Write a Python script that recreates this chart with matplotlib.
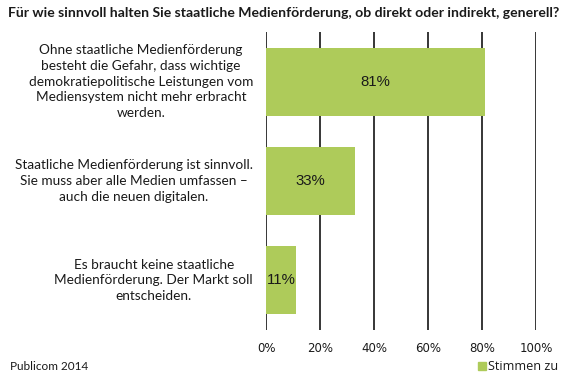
import matplotlib
matplotlib.use("Agg")
import matplotlib.pyplot as plt
from matplotlib.patches import Rectangle
from matplotlib.transforms import blended_transform_factory

title = "Für wie sinnvoll halten Sie staatliche Medienförderung, ob direkt oder indirekt, generell?"
categories = [
    "Ohne staatliche Medienförderung\nbesteht die Gefahr, dass wichtige\ndemokratiepolitische Leistungen vom\nMediensystem nicht mehr erbracht\nwerden.",
    "Staatliche Medienförderung ist sinnvoll.\nSie muss aber alle Medien umfassen –\nauch die neuen digitalen.",
    "Es braucht keine staatliche\nMedienförderung. Der Markt soll\nentscheiden.",
]
values = [81, 33, 11]
xticks = [0, 20, 40, 60, 80, 100]
xticklabels = ["0%", "20%", "40%", "60%", "80%", "100%"]
series_name = "Stimmen zu"
source = "Publicom 2014"

bar_color = "#AECB5A"
text_color = "#1a1a1a"

fig = plt.figure(figsize=(5.67, 3.8), dpi=100)
ax = fig.add_axes([266/567, 1-330/380, 270/567, 298/380])

y = list(range(len(categories)))
ax.barh(y, values, height=0.685, color=bar_color, zorder=3)
for yi, v in zip(y, values):
    ax.text(v/2, yi, f"{v}%", ha="center", va="center", fontsize=10.8,
            family="Liberation Sans", color=text_color, zorder=4)

ax.set_xlim(0, 100)
ax.set_ylim(2.5, -0.5)
for xt in xticks:
    ax.axvline(xt, color="black", lw=1.1, zorder=2)
for s in ax.spines.values():
    s.set_visible(False)
ax.set_xticks(xticks)
ax.set_xticklabels(xticklabels, family="DejaVu Sans", fontsize=8.5, color=text_color)
ax.tick_params(axis="x", length=0, pad=9)
ax.set_yticks([])

trans = blended_transform_factory(fig.transFigure, ax.transData)
for yi, lbl in zip(y, categories):
    ax.text(253/567, yi, lbl, transform=trans, ha="right", va="center",
            multialignment="center", family="Lato", fontsize=9.8,
            color=text_color, linespacing=1.38)

fig.text(8/567, 1-13/380, title, fontsize=10.05, fontweight="bold", family="Lato",
         color=text_color, va="center", ha="left")
fig.text(10/567, 1-366/380, source, fontsize=8.5, family="Lato",
         color=text_color, va="center", ha="left")
fig.patches.append(Rectangle((478/567, 1-370/380), 8/567, 8/380,
                             transform=fig.transFigure, color=bar_color))
fig.text(488/567, 1-366/380, series_name, fontsize=9.1, family="Open Sans",
         color=text_color, va="center", ha="left")

fig.savefig("out.png", dpi=100)
